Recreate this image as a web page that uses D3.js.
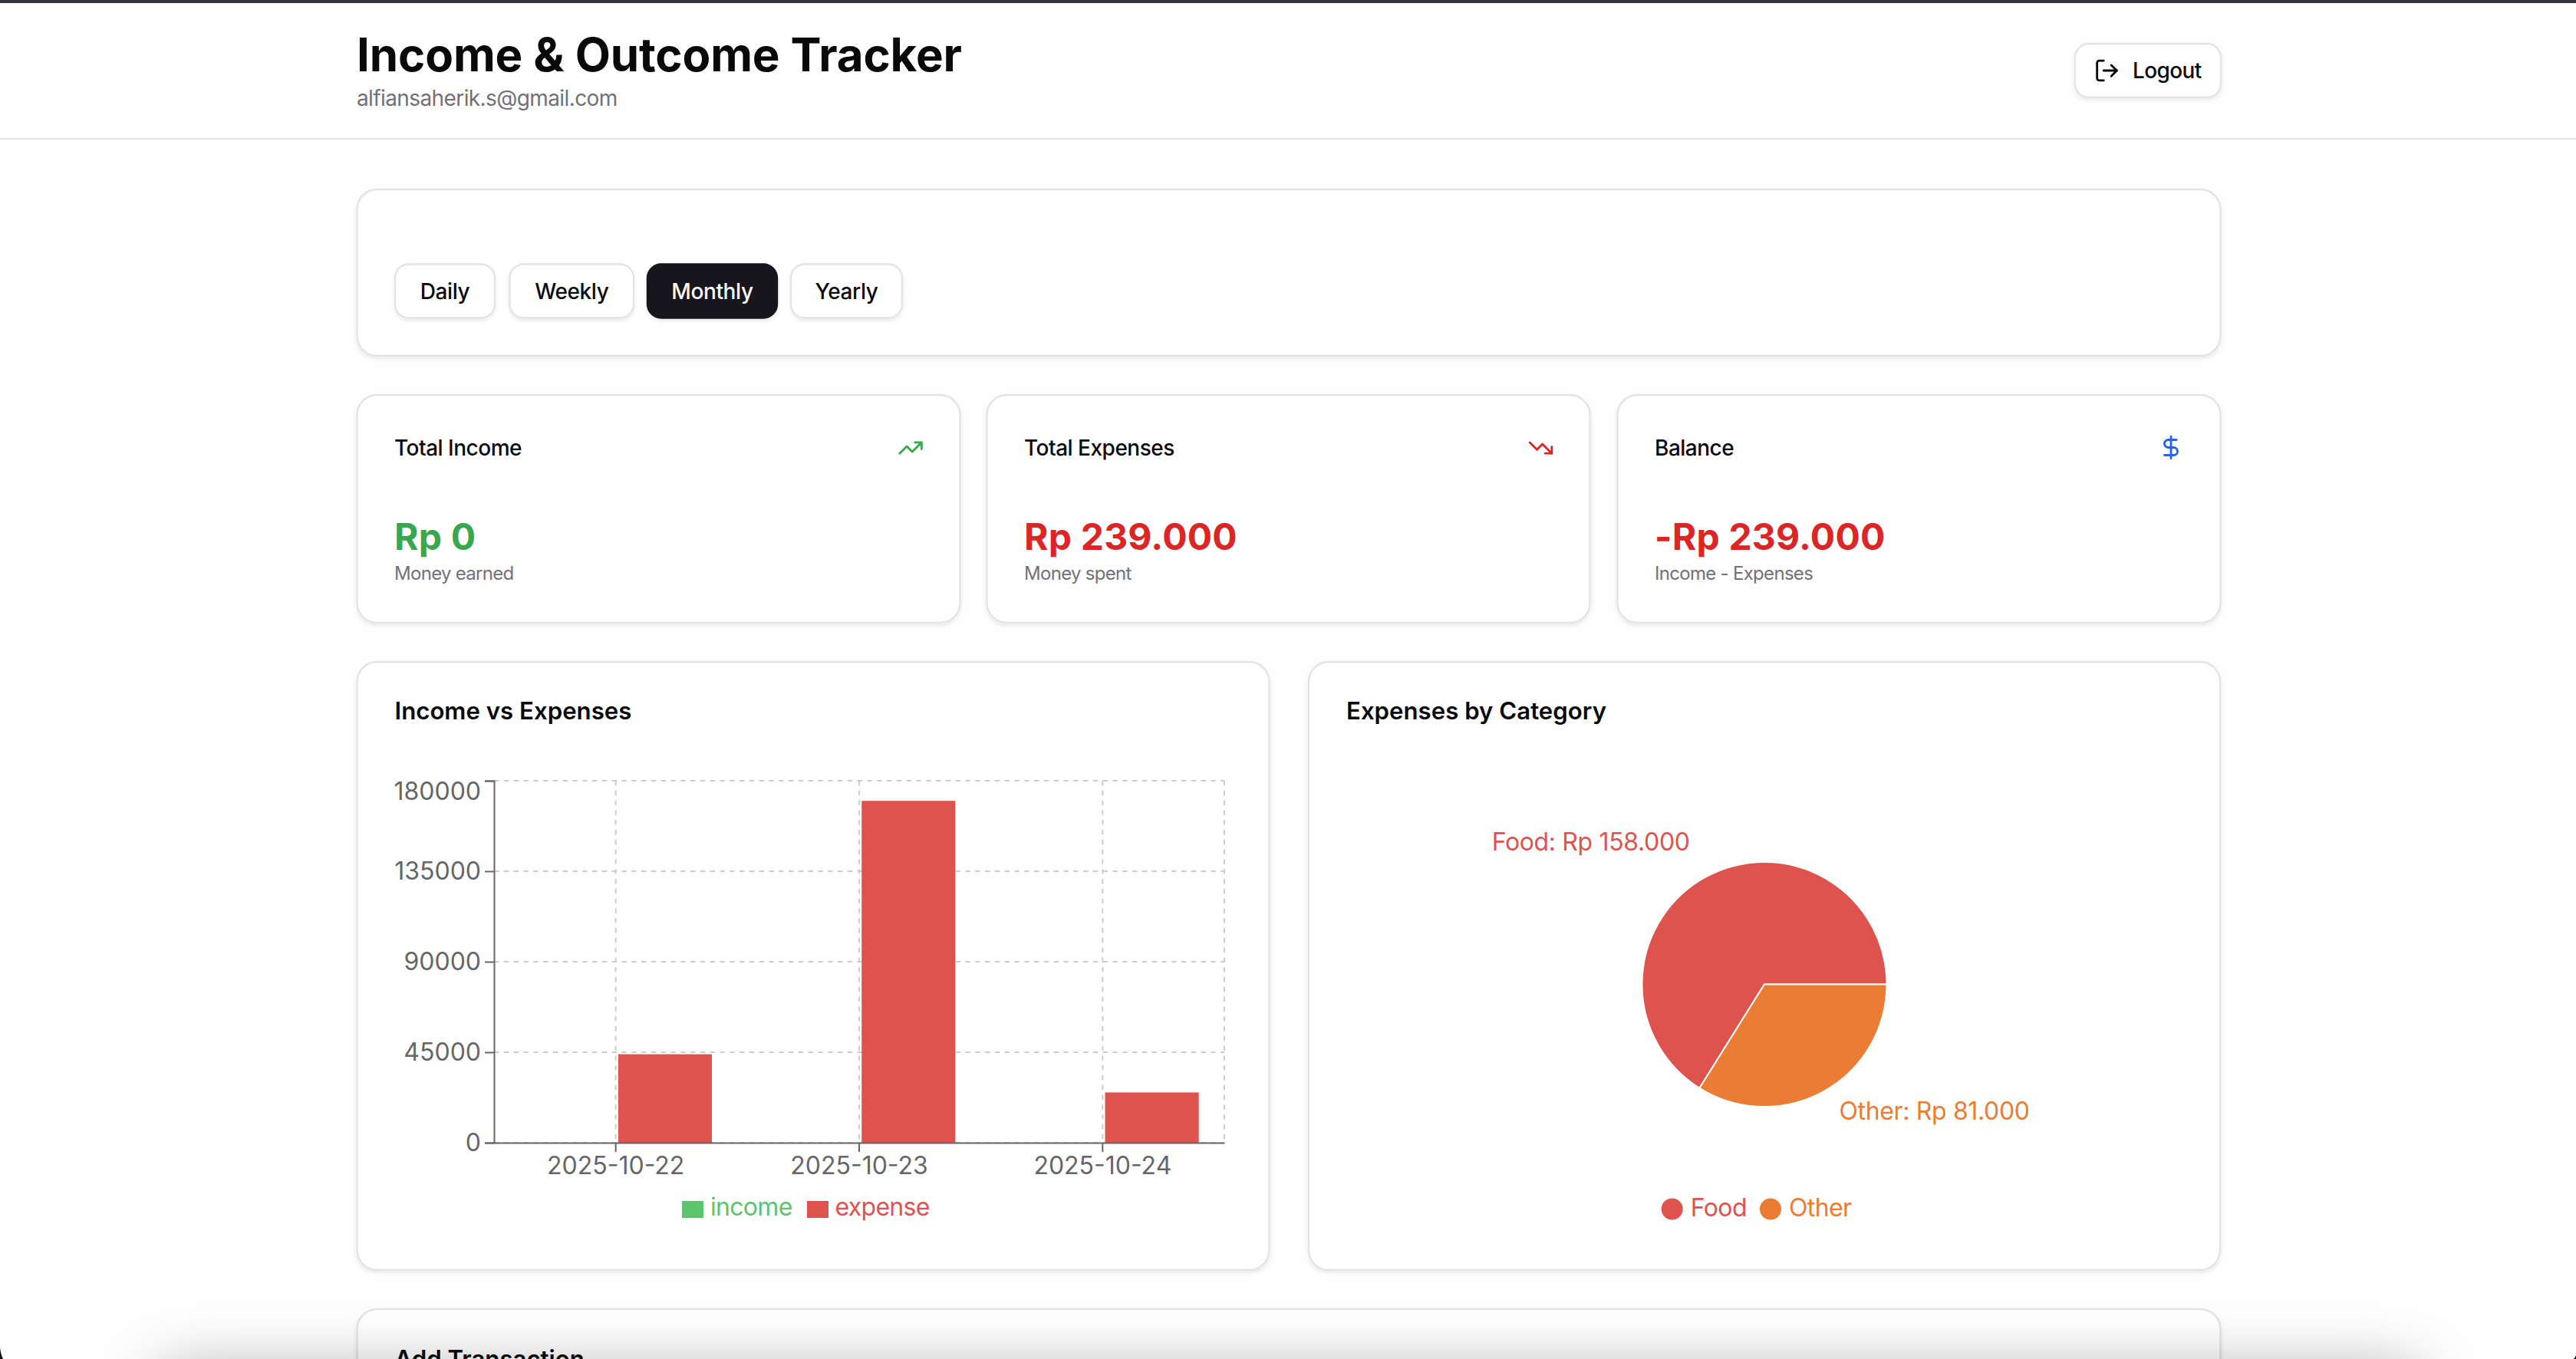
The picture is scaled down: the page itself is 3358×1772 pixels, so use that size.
<!DOCTYPE html>
<html>
<head>
<meta charset="utf-8">
<script src="https://cdn.jsdelivr.net/npm/d3@7"></script>
<style>
  html, body { margin: 0; padding: 0; background: #fefefe; overflow: hidden; }
  text { font-family: Inter, sans-serif; }
</style>
</head>
<body>
<svg id="page" width="3358" height="1772"></svg>
<script>
// Data
const dates = ['2025-10-22', '2025-10-23', '2025-10-24'];
const seriesNames = ['income', 'expense'];
const incomeValues = [0, 0, 0];
const expenseValues = [44000, 170000, 25000];
const yTicks = [0, 45000, 90000, 135000, 180000];
const categories = ['Food', 'Other'];
const categoryValues = [158000, 81000];
const categoryLabels = ['Food: Rp 158.000', 'Other: Rp 81.000'];
const rangeButtons = ['Daily', 'Weekly', 'Monthly', 'Yearly'];
const activeRange = 'Monthly';
const summaryTitles = ['Total Income', 'Total Expenses', 'Balance'];
const summaryValues = ['Rp 0', 'Rp 239.000', '-Rp 239.000'];
const summaryNotes = ['Money earned', 'Money spent', 'Income - Expenses'];

const GREEN = '#5bc46c', RED = '#df534f', ORANGE = '#eb7c34';
const svg = d3.select('#page');

// Card shadow
const defs = svg.append('defs');
const shadow = defs.append('filter').attr('id', 'cardShadow')
  .attr('x', '-5%').attr('y', '-5%').attr('width', '110%').attr('height', '115%');
shadow.append('feDropShadow').attr('dx', 0).attr('dy', 2.5).attr('stdDeviation', 2.5)
  .attr('flood-color', '#000').attr('flood-opacity', 0.09);
const blur = defs.append('filter').attr('id', 'windowBlur')
  .attr('x', '-20%').attr('y', '-100%').attr('width', '140%').attr('height', '300%');
blur.append('feGaussianBlur').attr('stdDeviation', 42);

function card(x, y, w, h, r) {
  return svg.append('rect')
    .attr('x', x).attr('y', y).attr('width', w).attr('height', h).attr('rx', r || 26)
    .attr('fill', '#fff').attr('stroke', '#e4e4e7').attr('stroke-width', 2.4)
    .attr('filter', 'url(#cardShadow)');
}

function label(parent, str, x, y, size, weight, color, anchor) {
  return parent.append('text')
    .attr('x', x).attr('y', y).attr('font-size', size).attr('font-weight', weight)
    .attr('fill', color).attr('text-anchor', anchor || 'start').text(str);
}

function icon(parent, cx, cy, color, draw) {
  const g = parent.append('g')
    .attr('transform', `translate(${cx - 17.1},${cy - 17.1}) scale(1.428)`)
    .attr('fill', 'none').attr('stroke', color).attr('stroke-width', 2)
    .attr('stroke-linecap', 'round').attr('stroke-linejoin', 'round');
  draw.forEach(d => g.append('path').attr('d', d));
}

// Header
svg.append('rect').attr('width', 3358).attr('height', 4).attr('fill', '#34343a');
svg.append('rect').attr('y', 180).attr('width', 3358).attr('height', 2).attr('fill', '#e4e4e7');
label(svg, 'Income & Outcome Tracker', 465, 93, 60, 700, '#09090b').attr('letter-spacing', -0.1);
label(svg, 'alfiansaherik.s@gmail.com', 465, 138, 28, 400, '#71717a').attr('letter-spacing', -0.6);

card(2705, 57, 190, 70, 18);
icon(svg, 2746.5, 92, '#09090b', ['M9 21H5a2 2 0 0 1-2-2V5a2 2 0 0 1 2-2h4', 'M16 17l5-5-5-5', 'M21 12H9']);
label(svg, 'Logout', 2780, 102, 28, 500, '#09090b').attr('letter-spacing', -0.6);

// Range selector
card(465.5, 247, 2429, 217);
const buttonX = [515, 664.5, 844, 1031];
const buttonW = [130, 161.5, 169, 145];
rangeButtons.forEach((name, i) => {
  const on = name === activeRange;
  const b = card(buttonX[i], 344.5, buttonW[i], 70, 18);
  if (on) b.attr('fill', '#18181b').attr('stroke', '#18181b');
  label(svg, name, buttonX[i] + buttonW[i] / 2, 390, 28, 500, on ? '#fafafa' : '#09090b', 'middle')
    .attr('letter-spacing', -0.4);
});

// Summary cards
const summaryX = [465.5, 1286.5, 2108.5];
const summaryColors = ['#38a84e', '#dc2626', '#dc2626'];
summaryTitles.forEach((title, i) => {
  card(summaryX[i], 515, 786, 297);
  label(svg, title, summaryX[i] + 48.5, 594, 28, 500, '#09090b').attr('letter-spacing', -0.5);
  label(svg, summaryValues[i], summaryX[i] + 48.5, 717, 48, 700, summaryColors[i]).attr('letter-spacing', 0.2);
  label(svg, summaryNotes[i], summaryX[i] + 48.5, 756, 24, 400, '#71717a').attr('letter-spacing', -0.7);
});
icon(svg, 1187, 584, '#38a84e', ['M22 7l-8.5 8.5-5-5L2 17', 'M16 7h6v6']);
icon(svg, 2008.5, 584, '#dc2626', ['M22 17l-8.5-8.5-5 5L2 7', 'M16 17h6v-6']);
icon(svg, 2830, 583.5, '#2563eb', ['M12 2v20', 'M17 5H9.5a3.5 3.5 0 0 0 0 7h5a3.5 3.5 0 0 1 0 7H6']);

// Chart cards
card(465.5, 863, 1189, 793);
card(1706, 863, 1188, 793);
label(svg, 'Income vs Expenses', 514.5, 938, 31.2, 600, '#09090b');
label(svg, 'Expenses by Category', 1755, 938, 31.2, 600, '#09090b');

// Bar chart
const x0 = d3.scaleBand().domain(dates).range([644, 1596]);
const groupPad = x0.bandwidth() * 0.105;
const x1 = d3.scaleBand().domain(seriesNames)
  .range([groupPad - x0.bandwidth() / 2, x0.bandwidth() / 2 - groupPad]).paddingInner(0.05);
const y = d3.scaleLinear().domain([0, 180000]).range([1490, 1018]);

const grid = svg.append('g').attr('stroke', '#ccc').attr('stroke-width', 2).attr('stroke-dasharray', '6.4 6.4');
grid.selectAll('.h').data(yTicks).enter().append('line')
  .attr('x1', 644).attr('x2', 1596).attr('y1', d => y(d)).attr('y2', d => y(d));
grid.selectAll('.v').data(dates).enter().append('line')
  .attr('x1', d => x0(d) + x0.bandwidth() / 2).attr('x2', d => x0(d) + x0.bandwidth() / 2)
  .attr('y1', 1018).attr('y2', 1490);
grid.append('line').attr('x1', 1596).attr('x2', 1596).attr('y1', 1018).attr('y2', 1490);

const barData = dates.map((d, i) => [
  { date: d, name: 'income', value: incomeValues[i], color: GREEN },
  { date: d, name: 'expense', value: expenseValues[i], color: RED }
]).flat();
svg.selectAll('.bar').data(barData).enter().append('rect')
  .attr('class', 'bar')
  .attr('x', d => x0(d.date) + x0.bandwidth() / 2 + x1(d.name))
  .attr('y', d => y(d.value))
  .attr('width', x1.bandwidth())
  .attr('height', d => y(0) - y(d.value))
  .attr('fill', d => d.color);

const yAxis = svg.append('g').attr('transform', 'translate(644,0)')
  .call(d3.axisLeft(y).tickValues(yTicks).tickFormat(d3.format('d')).tickSize(12).tickPadding(5));
const xAxis = svg.append('g').attr('transform', 'translate(0,1490)')
  .call(d3.axisBottom(x0).tickSize(12).tickPadding(6).tickSizeOuter(0));
[yAxis, xAxis].forEach(a => {
  a.selectAll('path, line').attr('stroke', '#666').attr('stroke-width', 2);
  a.selectAll('text').attr('fill', '#666').attr('font-size', 32).attr('font-family', 'Inter, sans-serif');
});
// the top tick label sits lower than its tick
yAxis.selectAll('.tick').filter(d => d === 180000).select('text').attr('dy', '0.76em');

// Bar legend
const barLegend = [
  { name: 'income', color: GREEN, sx: 889, tx: 926 },
  { name: 'expense', color: RED, sx: 1052, tx: 1088.5 }
];
barLegend.forEach(d => {
  svg.append('rect').attr('x', d.sx).attr('y', 1566).attr('width', 28).attr('height', 22).attr('fill', d.color);
  label(svg, d.name, d.tx, 1585, 32, 400, d.color).attr('letter-spacing', -0.7);
});

// Pie chart
const pieColor = d3.scaleOrdinal().domain(categories).range([RED, ORANGE]);
const pie = d3.pie().sort(null).startAngle(Math.PI / 2).endAngle(Math.PI / 2 - 2 * Math.PI);
const arc = d3.arc().innerRadius(0).outerRadius(159.5);
const labelArc = d3.arc().innerRadius(201).outerRadius(201);
const arcs = pie(categoryValues);
const pieG = svg.append('g').attr('transform', 'translate(2300,1283.5)');
pieG.selectAll('path').data(arcs).enter().append('path')
  .attr('d', arc)
  .attr('fill', (d, i) => pieColor(categories[i]))
  .attr('stroke', '#fff').attr('stroke-width', 2);
pieG.selectAll('text').data(arcs).enter().append('text')
  .attr('x', d => labelArc.centroid(d)[0])
  .attr('y', d => labelArc.centroid(d)[1] + 1)
  .attr('text-anchor', (d, i) => i === 0 ? 'end' : 'start')
  .attr('font-size', 32)
  .attr('letter-spacing', -0.35)
  .attr('fill', (d, i) => pieColor(categories[i]))
  .text((d, i) => categoryLabels[i]);

// Pie legend
const pieLegendX = [2179.7, 2308];
categories.forEach((name, i) => {
  svg.append('circle').attr('cx', pieLegendX[i]).attr('cy', 1576.5).attr('r', 14).attr('fill', pieColor(name));
  label(svg, name, pieLegendX[i] + 24, 1586, 32, 400, pieColor(name)).attr('letter-spacing', -0.6);
});

// Next card, cut by the window edge
card(465.5, 1707, 2429, 200);
label(svg, 'Add Transaction', 514.5, 1783, 31.2, 600, '#09090b');

// Shadow of the window below
svg.append('rect').attr('x', 210).attr('y', 1790).attr('width', 2940).attr('height', 200)
  .attr('fill', '#000').attr('opacity', 0.36).attr('filter', 'url(#windowBlur)');

// Dark window corners
svg.append('path').attr('d', 'M0 1757 L0 1772 L4 1772 Q1 1766 0 1757Z').attr('fill', '#111');
svg.append('path').attr('d', 'M3358 1767 L3358 1772 L3355 1772 Q3357 1770 3358 1767Z').attr('fill', '#111');
</script>
</body>
</html>
